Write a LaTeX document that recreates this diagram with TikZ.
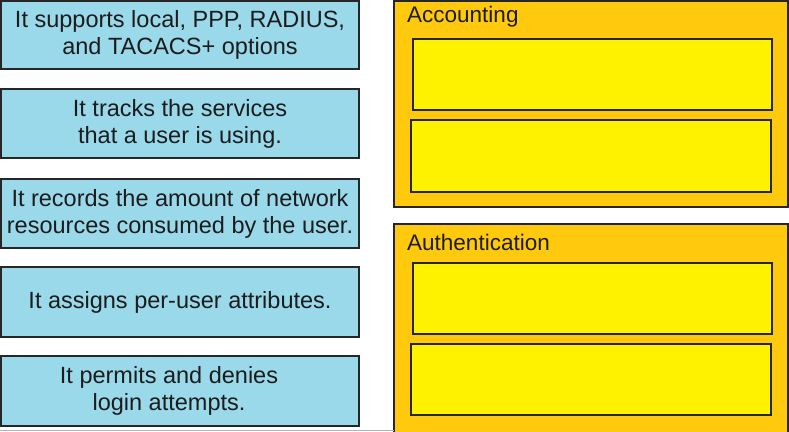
\documentclass[tikz,border=0pt]{standalone}
\usepackage{fontspec}
\setmainfont{Liberation Sans}
\definecolor{lblue}{HTML}{99D9EA}
\definecolor{gold}{HTML}{FFC90E}
\definecolor{yel}{HTML}{FFF200}
\definecolor{ink}{HTML}{1C1C1C}
\definecolor{edge}{HTML}{262626}
\begin{document}
\begin{tikzpicture}[x=1pt,y=-1pt,
  item/.style={draw=edge,line width=1.6pt,fill=lblue,inner sep=0pt,
    minimum width=358pt,text=ink,align=center,
    font=\fontsize{23.5}{27}\selectfont},
  panel/.style={draw=edge,line width=1.6pt,fill=gold,inner sep=0pt,minimum width=394pt},
  slot/.style={draw=edge,line width=1.6pt,fill=yel,inner sep=0pt},
  ptitle/.style={anchor=base west,inner sep=0pt,text=ink,font=\fontsize{22.5}{27}\selectfont}]
\useasboundingbox (0,0) rectangle (789,431);
\fill[white] (0,0) rectangle (789,431);
% left items
\node[item,minimum height=68pt] (i1) at (180,35) {It supports local, PPP, RADIUS,\\and TACACS+ options};
\node[item,minimum height=69pt] (i2) at (180,123.5) {It tracks the services\\that a user is using.};
\node[item,minimum height=69pt] (i3) at (180,213.5) {It records the amount of network\\resources consumed by the user.};
\node[item,minimum height=70pt] (i4) at (180,302) {It assigns per-user attributes.};
\node[item,minimum height=70pt] (i5) at (180,391) {It permits and denies\hspace*{22pt}\\login attempts.\hspace*{22pt}};
% panels
\node[panel,minimum height=206pt] (acc) at (591,104) {};
\node[ptitle] (acct) at (407,23) {Accounting};
\node[slot,minimum width=359pt,minimum height=71pt] (a1) at (592.5,74.5) {};
\node[slot,minimum width=360pt,minimum height=72pt] (a2) at (591,156) {};
\node[panel,minimum height=214pt] (aut) at (591,331) {};
\node[ptitle] (autt) at (407,250) {Authentication};
\node[slot,minimum width=359pt,minimum height=71pt] (b1) at (592.5,298.5) {};
\node[slot,minimum width=360pt,minimum height=71pt] (b2) at (591,379.5) {};
% bottom edge line
\draw[gray!60,line width=1pt] (0,430) -- (394,430);
\end{tikzpicture}
\end{document}
